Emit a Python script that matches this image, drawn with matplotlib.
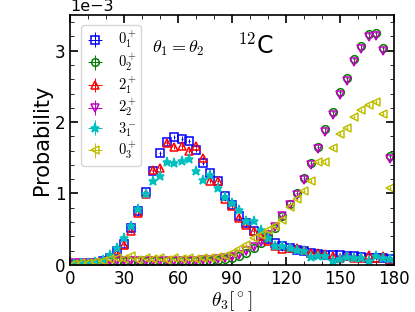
import numpy as np
import matplotlib
matplotlib.use("Agg")
import matplotlib.pyplot as plt
from matplotlib.ticker import MultipleLocator

plt.rcParams['mathtext.fontset'] = 'cm'

# bin centres (degrees)
theta3 = np.arange(2, 180, 4)

# probabilities in units of 1e-3
p_01 = [0.01, 0.01, 0.02, 0.03, 0.05, 0.10, 0.20, 0.29, 0.52, 0.75,
        1.02, 1.32, 1.56, 1.72, 1.79, 1.77, 1.74, 1.61, 1.43, 1.29,
        1.17, 0.97, 0.84, 0.69, 0.58, 0.48, 0.40, 0.36, 0.30, 0.26,
        0.23, 0.21, 0.19, 0.16, 0.15, 0.14, 0.14, 0.14, 0.13, 0.12,
        0.11, 0.10, 0.10, 0.09, 0.08]
p_02 = [0.02, 0.02, 0.03, 0.03, 0.04, 0.05, 0.05, 0.06, 0.06, 0.06,
        0.05, 0.06, 0.06, 0.05, 0.06, 0.06, 0.05, 0.06, 0.06, 0.06,
        0.07, 0.08, 0.09, 0.12, 0.17, 0.23, 0.30, 0.40, 0.52, 0.68,
        0.85, 1.00, 1.21, 1.42, 1.65, 1.90, 2.14, 2.42, 2.62, 2.88,
        3.06, 3.24, 3.25, 3.04, 1.52]
p_21 = [0.01, 0.01, 0.02, 0.03, 0.05, 0.10, 0.16, 0.28, 0.47, 0.72,
        0.99, 1.33, 1.35, 1.71, 1.65, 1.66, 1.60, 1.67, 1.50, 1.17,
        1.17, 0.92, 0.82, 0.65, 0.56, 0.48, 0.40, 0.33, 0.26, 0.22,
        0.24, 0.23, 0.21, 0.17, 0.17, 0.15, 0.12, 0.09, 0.13, 0.09,
        0.10, 0.14, 0.10, 0.12, 0.07]
p_22 = [0.02, 0.02, 0.03, 0.03, 0.04, 0.05, 0.06, 0.06, 0.06, 0.06,
        0.06, 0.06, 0.06, 0.06, 0.06, 0.06, 0.06, 0.06, 0.07, 0.07,
        0.08, 0.10, 0.11, 0.14, 0.19, 0.25, 0.32, 0.42, 0.53, 0.68,
        0.84, 0.98, 1.19, 1.40, 1.62, 1.86, 2.10, 2.38, 2.58, 2.84,
        3.02, 3.19, 3.21, 3.00, 1.48]
p_31 = [0.01, 0.02, 0.03, 0.04, 0.07, 0.14, 0.23, 0.37, 0.55, 0.78,
        0.99, 1.17, 1.24, 1.44, 1.43, 1.45, 1.48, 1.32, 1.19, 1.26,
        1.07, 0.95, 0.87, 0.77, 0.61, 0.61, 0.49, 0.37, 0.27, 0.26,
        0.23, 0.21, 0.19, 0.11, 0.12, 0.13, 0.06, 0.08, 0.11, 0.10,
        0.09, 0.06, 0.12, 0.10, 0.08]
p_03 = [0.01, 0.02, 0.03, 0.04, 0.06, 0.08, 0.10, 0.08, 0.12, 0.07,
        0.09, 0.08, 0.10, 0.07, 0.09, 0.08, 0.10, 0.08, 0.09, 0.10,
        0.11, 0.13, 0.17, 0.22, 0.28, 0.37, 0.42, 0.49, 0.55, 0.63,
        0.81, 0.92, 1.04, 1.17, 1.44, 1.44, 1.64, 1.84, 1.92, 2.07,
        2.17, 2.24, 2.28, 2.12, 1.08]

series = [
    (p_01, 's', 'b', r'$0_1^+$'),
    (p_02, 'o', 'g', r'$0_2^+$'),
    (p_21, '^', 'r', r'$2_1^+$'),
    (p_22, 'v', 'm', r'$2_2^+$'),
    (p_31, '*', 'c', r'$3_1^-$'),
    (p_03, '<', 'y', r'$0_3^+$'),
]

fig = plt.figure(figsize=(4.15, 3.12), dpi=100)
ax = fig.add_axes([0.169, 0.151, 0.780, 0.801])

for vals, mk, col, lab in series:
    v = np.array(vals) * 1e-3
    filled = mk == '*'
    ax.errorbar(theta3, v, yerr=0.03e-3, xerr=0.5, fmt=mk, color=col,
                mfc=col if filled else 'none', mec=col, ms=6.5 if filled else 5.5,
                mew=1.1, elinewidth=0.7, capsize=0, label=lab)

ax.set_xlim(0, 180)
ax.set_ylim(0, 3.5e-3)
ax.xaxis.set_major_locator(MultipleLocator(30))
ax.xaxis.set_minor_locator(MultipleLocator(10))
ax.yaxis.set_major_locator(MultipleLocator(1e-3))
ax.yaxis.set_minor_locator(MultipleLocator(0.2e-3))
ax.ticklabel_format(axis='y', style='sci', scilimits=(-3, -3))
ax.tick_params(which='both', direction='in', top=True, right=True, labelsize=12)
ax.tick_params(which='major', length=6, width=1.2)
ax.tick_params(which='minor', length=3)
ax.yaxis.get_offset_text().set_fontsize(11.5)
for s in ax.spines.values():
    s.set_linewidth(1.2)

ax.set_xlabel(r'$\theta_3[^\circ]$', fontsize=14, labelpad=1)
ax.set_ylabel('Probability', fontsize=15, labelpad=2)

ax.text(0.253, 0.85, r'$\theta_1=\theta_2$', transform=ax.transAxes, fontsize=13)
ax.text(0.515, 0.845, r'$^{12}$C', transform=ax.transAxes, fontsize=17)

ax.legend(loc='upper left', fontsize=10.5, handletextpad=0.9, borderpad=0.3,
          labelspacing=0.1, handlelength=1.3, bbox_to_anchor=(0.012, 0.99))

fig.savefig('out.png', dpi=100)
